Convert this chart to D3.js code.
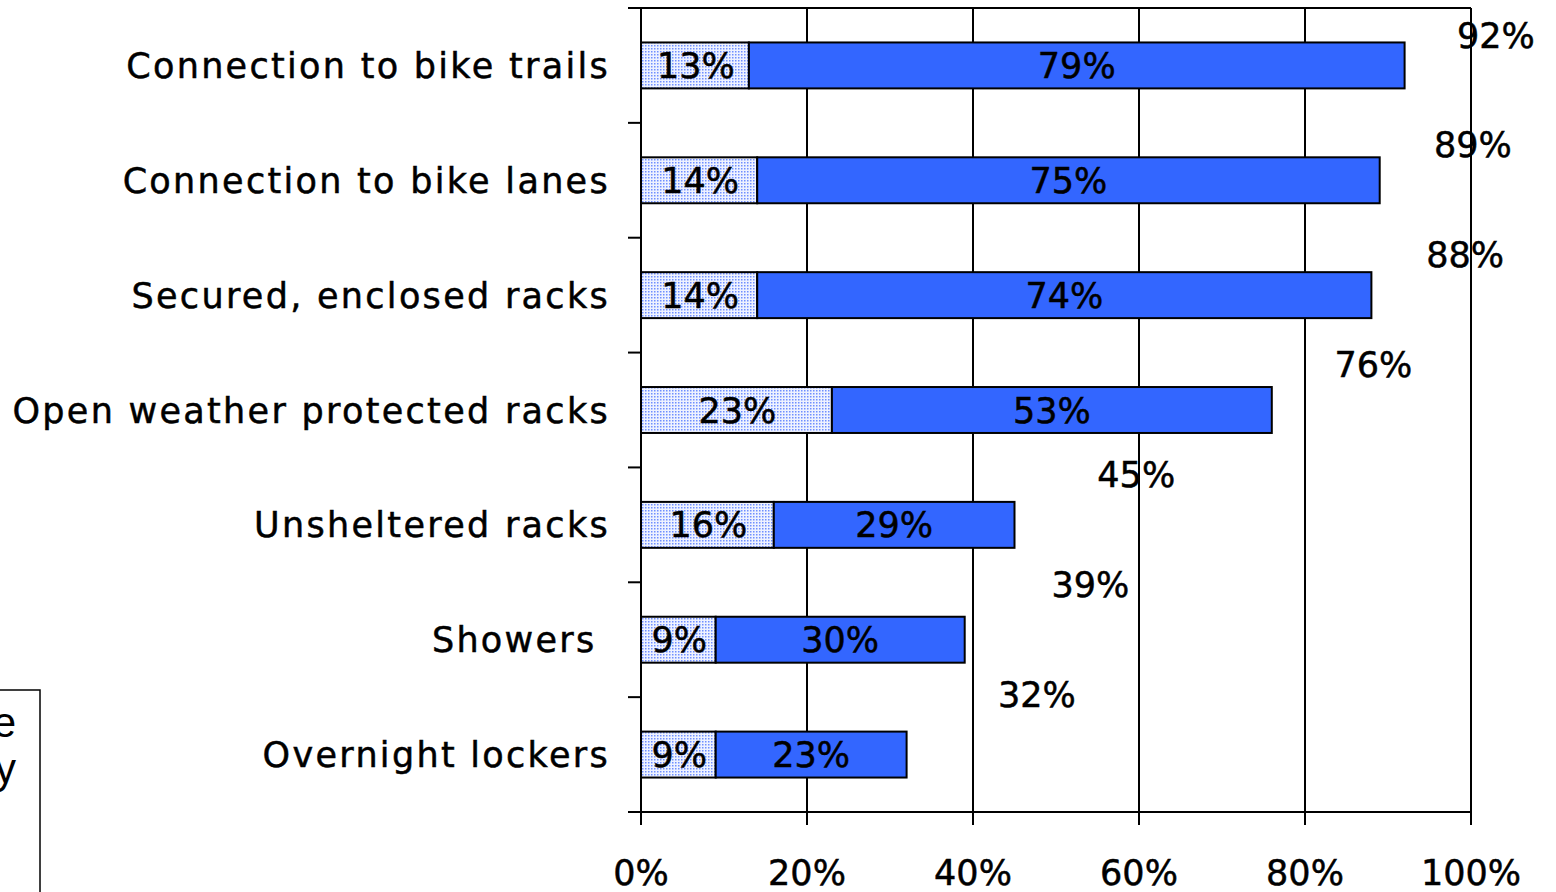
<!DOCTYPE html>
<html>
<head>
<meta charset="utf-8">
<script src="https://cdn.jsdelivr.net/npm/d3@7"></script>
<style>
  html, body { margin: 0; padding: 0; background: #fff; overflow: hidden; }
  svg { display: block; }
  .t { stroke: #000; stroke-width: 0.5px; }
</style>
</head>
<body>
<svg id="chart" width="1556" height="892"></svg>
<script>
const categories = ["Connection to bike trails", "Connection to bike lanes", "Secured, enclosed racks",
  "Open weather protected racks", "Unsheltered racks", "Showers\u00A0", "Overnight lockers"];
const paleValues = [13, 14, 14, 23, 16, 9, 9];
const blueValues = [79, 75, 74, 53, 29, 30, 23];
const totalValues = [92, 89, 88, 76, 45, 39, 32];
const xTicks = [0, 20, 40, 60, 80, 100];
const legendTails = ["e", "y"];

const svg = d3.select("#chart");
const plot = { left: 641, right: 1471, top: 8, bottom: 812 };
const FONT = "'DejaVu Sans', Verdana, sans-serif";

const x = d3.scaleLinear().domain([0, 100]).range([plot.left, plot.right]);
const y = d3.scaleBand().domain(categories).range([plot.top, plot.bottom]).paddingInner(0.6).paddingOuter(0.3);
const yEdges = d3.scaleLinear().domain([0, categories.length]).range([plot.top, plot.bottom]);
// total labels sit on their own offset scales (as in the source)
const labelX = d3.scaleLinear().domain([0, 100]).range([792, 1557]);
const labelY = d3.scaleLinear().domain([0, categories.length - 1]).range([35, 694]);

// pattern
const defs = svg.append("defs");
const pat = defs.append("pattern").attr("id", "dots").attr("width", 3).attr("height", 3)
  .attr("patternUnits", "userSpaceOnUse");
pat.append("rect").attr("width", 3).attr("height", 3).attr("fill", "#eef2ff");
pat.append("rect").attr("x", 0).attr("y", 0).attr("width", 1.5).attr("height", 1.5).attr("fill", "#6f8fff");

// vertical gridlines
svg.append("g").selectAll("line").data(xTicks.filter(t => t > 0)).join("line")
  .attr("x1", d => x(d)).attr("x2", d => x(d))
  .attr("y1", plot.top).attr("y2", plot.bottom)
  .attr("stroke", "#000").attr("stroke-width", 2);

// top border
svg.append("line").attr("x1", plot.left).attr("x2", plot.right)
  .attr("y1", plot.top).attr("y2", plot.top).attr("stroke", "#000").attr("stroke-width", 2);

// bars
const rows = svg.append("g").selectAll("g").data(categories).join("g");
rows.append("rect")
  .attr("x", (d, i) => x(0)).attr("y", d => y(d))
  .attr("width", (d, i) => x(paleValues[i]) - x(0)).attr("height", y.bandwidth())
  .attr("fill", "url(#dots)").attr("stroke", "#000").attr("stroke-width", 2);
rows.append("rect")
  .attr("x", (d, i) => x(paleValues[i])).attr("y", d => y(d))
  .attr("width", (d, i) => x(paleValues[i] + blueValues[i]) - x(paleValues[i])).attr("height", y.bandwidth())
  .attr("fill", "#3366ff").attr("stroke", "#000").attr("stroke-width", 2);

rows.append("text").attr("class", "t")
  .attr("x", (d, i) => (x(0) + x(paleValues[i])) / 2 + 1)
  .attr("y", d => y(d) + y.bandwidth() / 2)
  .attr("dy", "0.36em").attr("text-anchor", "middle")
  .attr("font-family", FONT).attr("font-size", 35).attr("fill", "#000")
  .text((d, i) => paleValues[i] + "%");
rows.append("text").attr("class", "t")
  .attr("x", (d, i) => (x(paleValues[i]) + x(paleValues[i] + blueValues[i])) / 2)
  .attr("y", d => y(d) + y.bandwidth() / 2)
  .attr("dy", "0.36em").attr("text-anchor", "middle")
  .attr("font-family", FONT).attr("font-size", 35).attr("fill", "#000")
  .text((d, i) => blueValues[i] + "%");

// total labels
svg.append("g").selectAll("text").data(totalValues).join("text").attr("class", "t")
  .attr("x", d => labelX(d)).attr("y", (d, i) => labelY(i))
  .attr("dy", "0.36em").attr("text-anchor", "middle")
  .attr("font-family", FONT).attr("font-size", 35).attr("fill", "#000")
  .text(d => d + "%");

// left axis
svg.append("line").attr("x1", plot.left).attr("x2", plot.left)
  .attr("y1", plot.top).attr("y2", plot.bottom).attr("stroke", "#000").attr("stroke-width", 2);
svg.append("g").selectAll("line").data(d3.range(categories.length + 1)).join("line")
  .attr("x1", plot.left - 13).attr("x2", plot.left)
  .attr("y1", d => yEdges(d)).attr("y2", d => yEdges(d))
  .attr("stroke", "#000").attr("stroke-width", 2);
svg.append("g").selectAll("text").data(categories).join("text").attr("class", "t")
  .attr("x", plot.left - 31).attr("y", d => y(d) + y.bandwidth() / 2)
  .attr("dy", "0.36em").attr("text-anchor", "end")
  .attr("font-family", FONT).attr("font-size", 35).attr("letter-spacing", 2.3)
  .style("white-space", "pre").attr("fill", "#000")
  .text(d => d);

// bottom axis
svg.append("line").attr("x1", plot.left - 13).attr("x2", plot.right)
  .attr("y1", plot.bottom).attr("y2", plot.bottom).attr("stroke", "#000").attr("stroke-width", 2);
svg.append("g").selectAll("line").data(xTicks).join("line")
  .attr("x1", d => x(d)).attr("x2", d => x(d))
  .attr("y1", plot.bottom).attr("y2", plot.bottom + 13)
  .attr("stroke", "#000").attr("stroke-width", 2);
svg.append("g").selectAll("text").data(xTicks).join("text").attr("class", "t")
  .attr("x", d => x(d)).attr("y", plot.bottom + 73)
  .attr("text-anchor", "middle")
  .attr("font-family", FONT).attr("font-size", 35).attr("fill", "#000")
  .text(d => d + "%");

// partially visible legend box (cut by the left page edge, as in the source)
const leg = svg.append("g");
leg.append("rect").attr("x", -20).attr("y", 690).attr("width", 60).attr("height", 230)
  .attr("fill", "#fff").attr("stroke", "#000").attr("stroke-width", 1.5);
leg.selectAll("text").data(legendTails).join("text")
  .attr("x", 16).attr("y", (d, i) => 737 + i * 46)
  .attr("text-anchor", "end")
  .attr("font-family", "'Liberation Sans', Arial, sans-serif").attr("font-size", 42).attr("fill", "#000")
  .text(d => d);
</script>
</body>
</html>
